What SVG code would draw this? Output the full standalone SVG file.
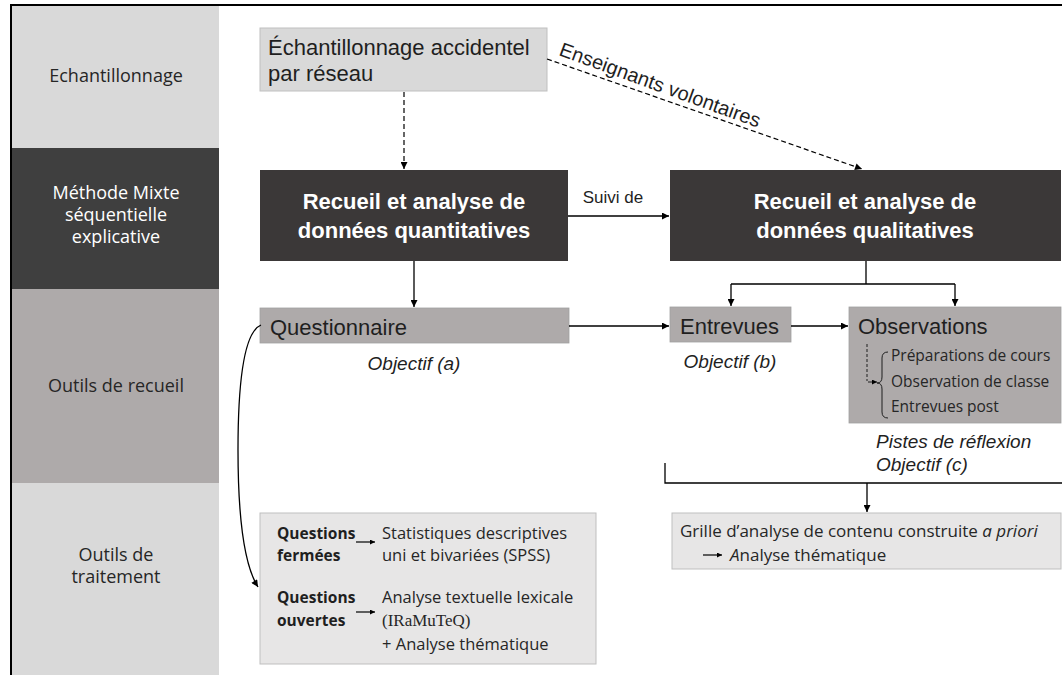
<svg xmlns="http://www.w3.org/2000/svg" width="1062" height="675" viewBox="0 0 1062 675">
<style>
.ar{font-family:"Liberation Sans",Arial,sans-serif}
.os{font-family:"Open Sans","DejaVu Sans",sans-serif}
.lab{font-size:18px;fill:#262626;text-anchor:middle}
.box{font-size:22px;fill:#1f1f1f}
.bold{font-size:22px;font-weight:bold;fill:#ffffff;text-anchor:middle}
.it{font-size:19px;font-style:italic;fill:#1f1f1f}
.ln{stroke:#000;stroke-width:1.3;fill:none}
.dash{stroke:#000;stroke-width:1.2;fill:none;stroke-dasharray:5 3}
</style>
<defs>
<marker id="ah" viewBox="0 0 10 10" refX="10" refY="5" markerWidth="8" markerHeight="7" markerUnits="userSpaceOnUse" orient="auto"><path d="M0,0 L10,5 L0,10 z" fill="#000"/></marker>
<marker id="ahs" viewBox="0 0 10 10" refX="10" refY="5" markerWidth="6" markerHeight="5" markerUnits="userSpaceOnUse" orient="auto"><path d="M0,0 L10,5 L0,10 z" fill="#000"/></marker>
</defs>
<rect width="1062" height="675" fill="#ffffff"/>

<g id="bands">
<rect x="12" y="5" width="207" height="143" fill="#d9d9d9"/>
<rect x="12" y="148" width="207" height="141" fill="#3f3f3f"/>
<rect x="12" y="289" width="207" height="194" fill="#aeaaaa"/>
<rect x="12" y="483" width="207" height="192" fill="#d9d9d9"/>
<text class="os lab" x="116" y="82">Echantillonnage</text>
<text class="os lab" x="116" y="199" style="fill:#ffffff">Méthode Mixte</text>
<text class="os lab" x="116" y="221" style="fill:#ffffff">séquentielle</text>
<text class="os lab" x="116" y="243" style="fill:#ffffff">explicative</text>
<text class="os lab" x="116" y="392">Outils de recueil</text>
<text class="os lab" x="116" y="561">Outils de</text>
<text class="os lab" x="116" y="583">traitement</text>
</g>

<g id="frame">
<path d="M10,5 H1062 M11,4 V675" stroke="#000" stroke-width="2" fill="none"/>
</g>

<g id="echantillonnage">
<rect x="260" y="28" width="287" height="63" fill="#d9d9d9" stroke="#bfbfbf" stroke-width="1"/>
<text class="ar box" x="268" y="55">Échantillonnage accidentel</text>
<text class="ar box" x="268" y="81">par réseau</text>
</g>

<g id="quantitatif">
<rect x="260" y="170" width="308" height="91" fill="#3b3838"/>
<text class="ar bold" x="414" y="209">Recueil et analyse de</text>
<text class="ar bold" x="414" y="238">données quantitatives</text>
</g>

<g id="qualitatif">
<rect x="670" y="170" width="391" height="91" fill="#3b3838"/>
<text class="ar bold" x="865" y="209">Recueil et analyse de</text>
<text class="ar bold" x="865" y="238">données qualitatives</text>
</g>

<g id="questionnaire">
<rect x="260" y="308" width="309" height="35" fill="#aeaaaa" stroke="#a0a0a0" stroke-width="0.8"/>
<text class="ar box" x="270" y="335">Questionnaire</text>
<text class="ar it" x="414" y="370" text-anchor="middle">Objectif (a)</text>
</g>

<g id="entrevues">
<rect x="670" y="307" width="121" height="35" fill="#aeaaaa" stroke="#a0a0a0" stroke-width="0.8"/>
<text class="ar box" x="680" y="334">Entrevues</text>
<text class="ar it" x="730" y="368" text-anchor="middle">Objectif (b)</text>
</g>

<g id="observations">
<rect x="849" y="307" width="212" height="116" fill="#aeaaaa" stroke="#a0a0a0" stroke-width="0.8"/>
<text class="ar box" x="858" y="334">Observations</text>
<path d="M888,352 Q882,352 882,358 V377 Q882,383 877,383 Q882,383 882,389 V412 Q882,418 888,418" stroke="#1f1f1f" stroke-width="1" fill="none"/>
<path d="M867,344 V381" stroke="#1f1f1f" stroke-width="1" stroke-dasharray="3 2" fill="none"/>
<path d="M868,382 H877" stroke="#1f1f1f" stroke-width="1" fill="none" marker-end="url(#ahs)"/>
<text class="os" x="891" y="361" font-size="15.5" fill="#262626">Préparations de cours</text>
<text class="os" x="891" y="387" font-size="15.5" fill="#262626">Observation de classe</text>
<text class="os" x="891" y="412" font-size="15.5" fill="#262626">Entrevues post</text>
<text class="ar it" x="876" y="448">Pistes de réflexion</text>
<text class="ar it" x="876" y="471">Objectif (c)</text>
</g>

<g id="traitement-quanti">
<rect x="260" y="513" width="336" height="151" fill="#e7e6e6" stroke="#bfbfbf" stroke-width="1"/>
<text class="os" x="277" y="539" font-size="15.5" font-weight="bold" fill="#1f1f1f">Questions</text>
<text class="os" x="277" y="561" font-size="15.5" font-weight="bold" fill="#1f1f1f">fermées</text>
<text class="os" x="277" y="603" font-size="15.5" font-weight="bold" fill="#1f1f1f">Questions</text>
<text class="os" x="277" y="626" font-size="15.5" font-weight="bold" fill="#1f1f1f">ouvertes</text>
<text class="os" x="382" y="539" font-size="16.5" fill="#262626">Statistiques descriptives</text>
<text class="os" x="382" y="561" font-size="16.5" fill="#262626">uni et bivariées (SPSS)</text>
<text class="os" x="382" y="603" font-size="16.5" fill="#262626">Analyse textuelle lexicale</text>
<text x="382" y="626" font-size="17" fill="#262626" font-family="'Liberation Serif','Times New Roman',serif">(IRaMuTeQ)</text>
<text class="os" x="382" y="650" font-size="16.5" fill="#262626">+ Analyse thématique</text>
<path d="M356,542 H375" stroke="#000" stroke-width="1.2" fill="none" marker-end="url(#ahs)"/>
<path d="M356,612 H375" stroke="#000" stroke-width="1.2" fill="none" marker-end="url(#ahs)"/>
</g>

<g id="traitement-quali">
<rect x="672" y="513" width="389" height="56" fill="#e7e6e6" stroke="#bfbfbf" stroke-width="1"/>
<text class="os" x="680" y="537" font-size="17" fill="#262626">Grille d’analyse de contenu construite <tspan font-style="italic">a priori</tspan></text>
<path d="M703,555 H722" stroke="#000" stroke-width="1.2" fill="none" marker-end="url(#ahs)"/>
<text class="os" x="730" y="561" font-size="17" fill="#262626"><tspan font-style="italic">A</tspan>nalyse thématique</text>
</g>

<g id="connectors">
<path class="dash" d="M404,92 V169" marker-end="url(#ah)"/>
<path class="dash" d="M547,59 L862,169" marker-end="url(#ah)"/>
<text class="ar" x="0" y="0" font-size="20" fill="#1f1f1f" transform="translate(558,55) rotate(20)">Enseignants volontaires</text>
<path class="ln" d="M568,216 H669" marker-end="url(#ah)"/>
<text class="ar" x="613" y="203" font-size="17" fill="#1f1f1f" text-anchor="middle">Suivi de</text>
<path class="ln" d="M414,261 V307" marker-end="url(#ah)"/>
<path class="ln" d="M866,261 V284 M731,284 H955"/>
<path class="ln" d="M731,284 V306" marker-end="url(#ah)"/>
<path class="ln" d="M955,284 V306" marker-end="url(#ah)"/>
<path class="ln" d="M569,326 H669" marker-end="url(#ah)"/>
<path class="ln" d="M791,326 H848" marker-end="url(#ah)"/>
<path class="ln" d="M665,463 V483 H1062"/>
<path class="ln" d="M867,483 V512" marker-end="url(#ah)"/>
<path class="ln" d="M261,325 C244,332 238,380 238,450 C238,520 244,565 258,587" marker-end="url(#ah)"/>
</g>
</svg>
